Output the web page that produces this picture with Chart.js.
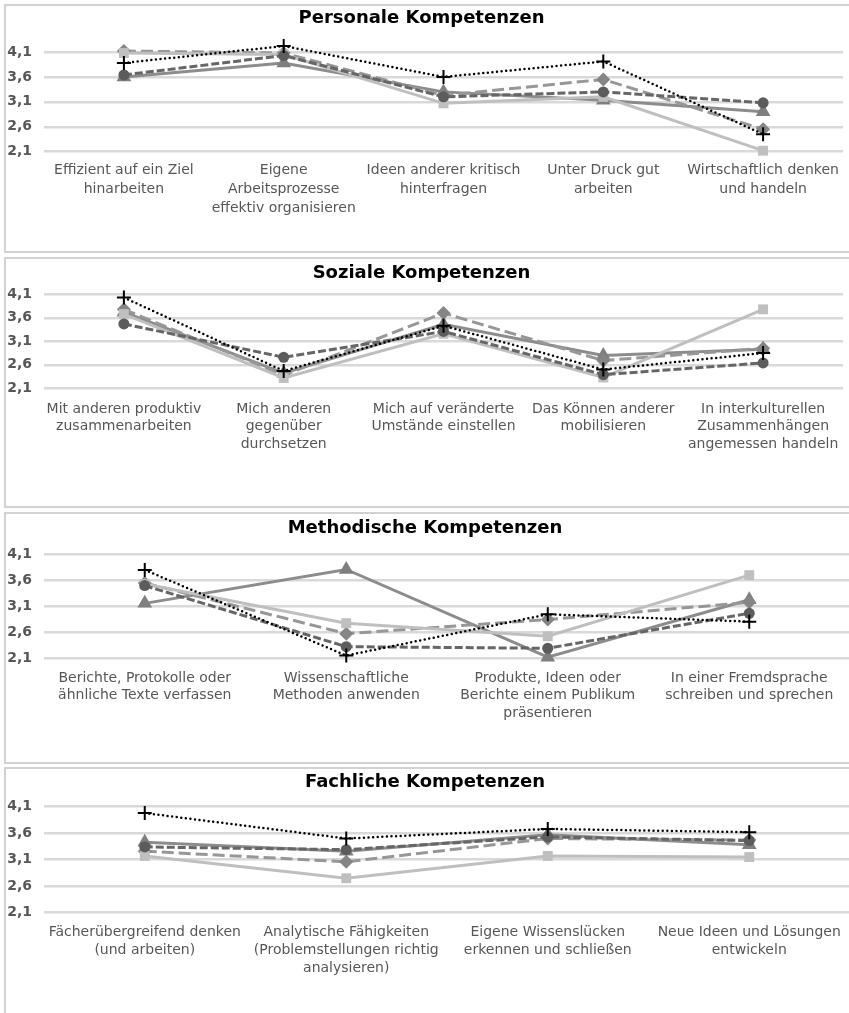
<!DOCTYPE html>
<html lang="de">
<head>
<meta charset="utf-8">
<title>Kompetenzen</title>
<script src="https://cdn.jsdelivr.net/npm/chart.js@4/dist/chart.umd.min.js"></script>
<style>
  html, body { margin: 0; padding: 0; background: #ffffff; width: 849px; height: 1013px; overflow: hidden; }
  .panel { position: absolute; left: 4px; width: 900px; border: 2px solid #d2d2d2; box-sizing: border-box; }
  canvas { position: absolute; left: 0; }
</style>
</head>
<body>
<div class="panel" style="top:4px;height:249px"></div>
<div class="panel" style="top:257px;height:251px"></div>
<div class="panel" style="top:512px;height:252px"></div>
<div class="panel" style="top:767px;height:300px"></div>
<canvas id="c1" width="853" height="247" style="top:5px"></canvas>
<canvas id="c2" width="853" height="249" style="top:258px"></canvas>
<canvas id="c3" width="853" height="250" style="top:513px"></canvas>
<canvas id="c4" width="853" height="245" style="top:768px"></canvas>
<script>
// Gemeinsame Skala
const yTickValues = [2.1, 2.6, 3.1, 3.6, 4.1];
const yTickLabels = ['2,1', '2,6', '3,1', '3,6', '4,1'];

// Personale Kompetenzen
const personaleTitel = 'Personale Kompetenzen';
const personaleKategorien = [
  ['Effizient auf ein Ziel', 'hinarbeiten'],
  ['Eigene', 'Arbeitsprozesse', 'effektiv organisieren'],
  ['Ideen anderer kritisch', 'hinterfragen'],
  ['Unter Druck gut', 'arbeiten'],
  ['Wirtschaftlich denken', 'und handeln']
];
const personaleReihe1 = [4.08, 4.05, 3.07, 3.20, 2.12];
const personaleReihe2 = [3.60, 3.88, 3.30, 3.13, 2.90];
const personaleReihe3 = [4.12, 4.08, 3.23, 3.55, 2.55];
const personaleReihe4 = [3.64, 4.03, 3.20, 3.30, 3.08];
const personaleReihe5 = [3.88, 4.22, 3.60, 3.91, 2.45];

// Soziale Kompetenzen
const sozialeTitel = 'Soziale Kompetenzen';
const sozialeKategorien = [
  ['Mit anderen produktiv', 'zusammenarbeiten'],
  ['Mich anderen', 'gegenüber', 'durchsetzen'],
  ['Mich auf veränderte', 'Umstände einstellen'],
  ['Das Können anderer', 'mobilisieren'],
  ['In interkulturellen', 'Zusammenhängen', 'angemessen handeln']
];
const sozialeReihe1 = [3.68, 2.32, 3.26, 2.33, 3.78];
const sozialeReihe2 = [3.72, 2.42, 3.46, 2.80, 2.93];
const sozialeReihe3 = [3.78, 2.38, 3.70, 2.69, 2.95];
const sozialeReihe4 = [3.47, 2.76, 3.31, 2.39, 2.64];
const sozialeReihe5 = [4.03, 2.47, 3.43, 2.50, 2.85];

// Methodische Kompetenzen
const methodischeTitel = 'Methodische Kompetenzen';
const methodischeKategorien = [
  ['Berichte, Protokolle oder', 'ähnliche Texte verfassen'],
  ['Wissenschaftliche', 'Methoden anwenden'],
  ['Produkte, Ideen oder', 'Berichte einem Publikum', 'präsentieren'],
  ['In einer Fremdsprache', 'schreiben und sprechen']
];
const methodischeReihe1 = [3.53, 2.78, 2.53, 3.70];
const methodischeReihe2 = [3.16, 3.81, 2.13, 3.23];
const methodischeReihe3 = [3.55, 2.58, 2.85, 3.18];
const methodischeReihe4 = [3.50, 2.33, 2.30, 2.97];
const methodischeReihe5 = [3.80, 2.16, 2.95, 2.81];

// Fachliche Kompetenzen
const fachlicheTitel = 'Fachliche Kompetenzen';
const fachlicheKategorien = [
  ['Fächerübergreifend denken', '(und arbeiten)'],
  ['Analytische Fähigkeiten', '(Problemstellungen richtig', 'analysieren)'],
  ['Eigene Wissenslücken', 'erkennen und schließen'],
  ['Neue Ideen und Lösungen', 'entwickeln']
];
const fachlicheReihe1 = [3.17, 2.75, 3.17, 3.15];
const fachlicheReihe2 = [3.43, 3.26, 3.57, 3.38];
const fachlicheReihe3 = [3.26, 3.06, 3.50, 3.47];
const fachlicheReihe4 = [3.34, 3.29, 3.53, 3.46];
const fachlicheReihe5 = [3.98, 3.50, 3.68, 3.62];

// Darstellung der fünf Reihen
const reihenStil = {
  r1: { pointStyle: 'rect',     radius: 7,   fill: '#bfbfbf', line: '#bfbfbf', dash: [],       width: 3,   cap: 'butt',  pw: 0 },
  r2: { pointStyle: 'triangle', radius: 8.5, fill: '#7f7f7f', line: '#8c8c8c', dash: [],       width: 3,   cap: 'butt',  pw: 0 },
  r3: { pointStyle: 'rectRot',  radius: 7,   fill: '#858585', line: '#979797', dash: [12, 5],  width: 3,   cap: 'butt',  pw: 0 },
  r4: { pointStyle: 'circle',   radius: 5.5, fill: '#5c5c5c', line: '#666666', dash: [8, 3],   width: 3,   cap: 'butt',  pw: 0 },
  r5: { pointStyle: 'cross',    radius: 7,   fill: '#000000', line: '#000000', dash: [0, 4.6], width: 2.5, cap: 'round', pw: 2 }
};

function datensatz(name, werte, stil) {
  return {
    label: name,
    data: werte,
    borderColor: stil.line,
    borderWidth: stil.width,
    borderDash: stil.dash,
    borderCapStyle: stil.cap,
    backgroundColor: stil.fill,
    pointStyle: stil.pointStyle,
    pointRadius: stil.radius,
    pointHoverRadius: stil.radius,
    pointBackgroundColor: stil.fill,
    pointBorderColor: stil.fill,
    pointBorderWidth: stil.pw,
    tension: 0,
    fill: false,
    clip: false
  };
}

Chart.defaults.font.family = '"DejaVu Sans", "Liberation Sans", sans-serif';

function zeichne(cfg) {
  // Reihenfolge: erster Datensatz liegt oben
  const datasets = [
    datensatz('Reihe 5', cfg.r5, reihenStil.r5),
    datensatz('Reihe 4', cfg.r4, reihenStil.r4),
    datensatz('Reihe 1', cfg.r1, reihenStil.r1),
    datensatz('Reihe 3', cfg.r3, reihenStil.r3),
    datensatz('Reihe 2', cfg.r2, reihenStil.r2)
  ];
  const canvas = document.getElementById(cfg.id);
  new Chart(canvas, {
    type: 'line',
    data: { labels: cfg.kategorien, datasets: datasets },
    options: {
      responsive: false,
      animation: false,
      events: [],
      layout: { autoPadding: false, padding: { left: 0, top: 0, bottom: 0, right: canvas.width - cfg.rechts } },
      plugins: {
        legend: { display: false },
        tooltip: { enabled: false },
        title: {
          display: true,
          text: cfg.titel,
          color: '#000000',
          font: { size: 18, weight: 'bold', lineHeight: 1 },
          padding: { top: cfg.titelOben, bottom: cfg.titelUnten }
        }
      },
      scales: {
        x: {
          type: 'category',
          offset: true,
          grid: { display: false, drawTicks: false },
          border: { display: false },
          ticks: {
            autoSkip: false,
            maxRotation: 0,
            minRotation: 0,
            color: '#575757',
            padding: cfg.labelAbstand,
            font: { size: 14, lineHeight: cfg.zeilenHoehe + 'px' }
          },
          afterFit: (s) => { s.height = cfg.xHoehe; }
        },
        y: {
          min: yTickValues[0],
          max: yTickValues[yTickValues.length - 1],
          grid: { color: '#d9d9d9', lineWidth: 2.5, drawTicks: false },
          border: { display: false },
          ticks: {
            color: '#575757',
            padding: 12,
            font: { size: 14, weight: 'bold' },
            callback: (v, i) => yTickLabels[i]
          },
          afterBuildTicks: (s) => { s.ticks = yTickValues.map(v => ({ value: v })); },
          afterFit: (s) => { s.width = 44; }
        }
      }
    }
  });
}

zeichne({ id: 'c1', titel: personaleTitel, kategorien: personaleKategorien,
  r1: personaleReihe1, r2: personaleReihe2, r3: personaleReihe3, r4: personaleReihe4, r5: personaleReihe5,
  titelOben: 4.8, titelUnten: 24.2, xHoehe: 100.3, zeilenHoehe: 19, labelAbstand: 8.8, rechts: 843 });

zeichne({ id: 'c2', titel: sozialeTitel, kategorien: sozialeKategorien,
  r1: sozialeReihe1, r2: sozialeReihe2, r3: sozialeReihe3, r4: sozialeReihe4, r5: sozialeReihe5,
  titelOben: 6, titelUnten: 12.3, xHoehe: 118.7, zeilenHoehe: 17.5, labelAbstand: 12.2, rechts: 843 });

zeichne({ id: 'c3', titel: methodischeTitel, kategorien: methodischeKategorien,
  r1: methodischeReihe1, r2: methodischeReihe2, r3: methodischeReihe3, r4: methodischeReihe4, r5: methodischeReihe5,
  titelOben: 6.5, titelUnten: 16.8, xHoehe: 104.3, zeilenHoehe: 17.5, labelAbstand: 10.8, rechts: 850 });

zeichne({ id: 'c4', titel: fachlicheTitel, kategorien: fachlicheKategorien,
  r1: fachlicheReihe1, r2: fachlicheReihe2, r3: fachlicheReihe3, r4: fachlicheReihe4, r5: fachlicheReihe5,
  titelOben: 5.2, titelUnten: 15.5, xHoehe: 100.3, zeilenHoehe: 18, labelAbstand: 11, rechts: 850 });
</script>
</body>
</html>
